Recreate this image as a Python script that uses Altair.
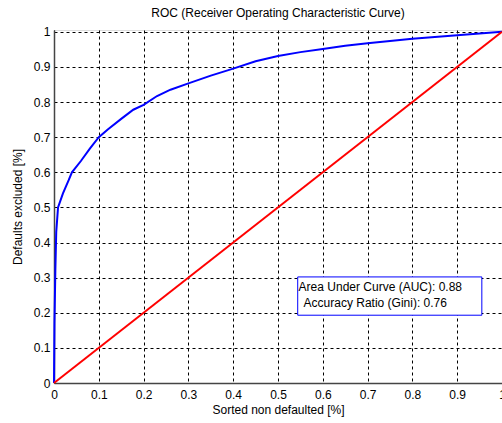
import altair as alt
import pandas as pd

# ROC curve points
roc_x = [0, 0.001, 0.003, 0.005, 0.009, 0.02, 0.033, 0.04, 0.06, 0.08, 0.1, 0.12, 0.15,
         0.177, 0.2, 0.23, 0.26, 0.3, 0.35, 0.4, 0.45, 0.5, 0.55, 0.6, 0.65, 0.7, 0.8, 0.9, 1.0]
roc_y = [0, 0.17, 0.32, 0.43, 0.50, 0.54, 0.578, 0.60, 0.632, 0.667, 0.70, 0.722, 0.752,
         0.778, 0.792, 0.817, 0.835, 0.853, 0.875, 0.895, 0.916, 0.931, 0.942, 0.951, 0.96, 0.967, 0.98, 0.99, 1.0]

diag_x = [0, 1]
diag_y = [0, 1]

tick_values = [0, 0.1, 0.2, 0.3, 0.4, 0.5, 0.6, 0.7, 0.8, 0.9, 1]

text_lines = ["Area Under Curve (AUC): 0.88", "Accuracy Ratio (Gini): 0.76"]

FONT = "Liberation Sans"

roc_df = pd.DataFrame({"x": roc_x, "y": roc_y, "o": list(range(len(roc_x)))})
diag_df = pd.DataFrame({"x": diag_x, "y": diag_y, "o": [0, 1]})

xscale = alt.Scale(domain=[0, 1], nice=False, zero=False)
yscale = alt.Scale(domain=[0, 1.005], nice=False, zero=False)

common = dict(grid=True, gridDash=[3, 3], gridColor="black", gridOpacity=1, gridWidth=1,
              ticks=False, labelFontSize=12, labelFont=FONT, labelColor="black",
              titleFont=FONT, titleFontSize=12, titleFontWeight="normal",
              titleColor="black", domainColor="#444", domainWidth=1.5,
              labelFlush=False, labelOverlap=False, format="~g")

xaxis = alt.Axis(values=tick_values, title="Sorted non defaulted [%]",
                 labelPadding=6, titlePadding=4, **common)
yaxis = alt.Axis(values=tick_values, title="Defaults excluded [%]",
                 labelPadding=4, titlePadding=9, **common)

X = alt.X("x:Q", scale=xscale, axis=xaxis)
Y = alt.Y("y:Q", scale=yscale, axis=yaxis)

roc = alt.Chart(roc_df).mark_line(color="#0000ff", strokeWidth=2).encode(
    x=X, y=Y, order="o:Q",
)

diag = alt.Chart(diag_df).mark_line(color="#ff0000", strokeWidth=2).encode(
    x=X, y=Y, order="o:Q",
)

# annotation box (data coordinates)
BOX_X1, BOX_X2, BOX_Y1, BOX_Y2 = 0.544, 0.955, 0.193, 0.302
box_df = pd.DataFrame({"x": [BOX_X1], "x2": [BOX_X2], "y": [BOX_Y1], "y2": [BOX_Y2]})
box = alt.Chart(box_df).mark_rect(fill="white", stroke="#0000ff", strokeWidth=1).encode(
    x=X, x2="x2:Q", y=Y, y2="y2:Q",
)

TEXT_X = [0.546, 0.557]
TEXT_Y = [0.274, 0.228]
text_df = pd.DataFrame({"x": TEXT_X, "y": TEXT_Y, "t": text_lines})
texts = alt.Chart(text_df).mark_text(align="left", baseline="middle", font=FONT,
                                     fontSize=12, color="black").encode(
    x=X, y=Y, text="t:N",
)

chart = alt.layer(roc, diag, box, texts).properties(
    width=448, height=353,
    title=alt.TitleParams("ROC (Receiver Operating Characteristic Curve)", font=FONT,
                          fontSize=12, fontWeight="normal", color="black", offset=6),
    autosize=alt.AutoSizeParams(type="none"),
    padding={"left": 54, "top": 30, "right": 0, "bottom": 40},
).configure_view(stroke="#222", strokeWidth=1).configure(background="white")

chart.save("out.html", embed_options={"renderer": "svg", "actions": False})
